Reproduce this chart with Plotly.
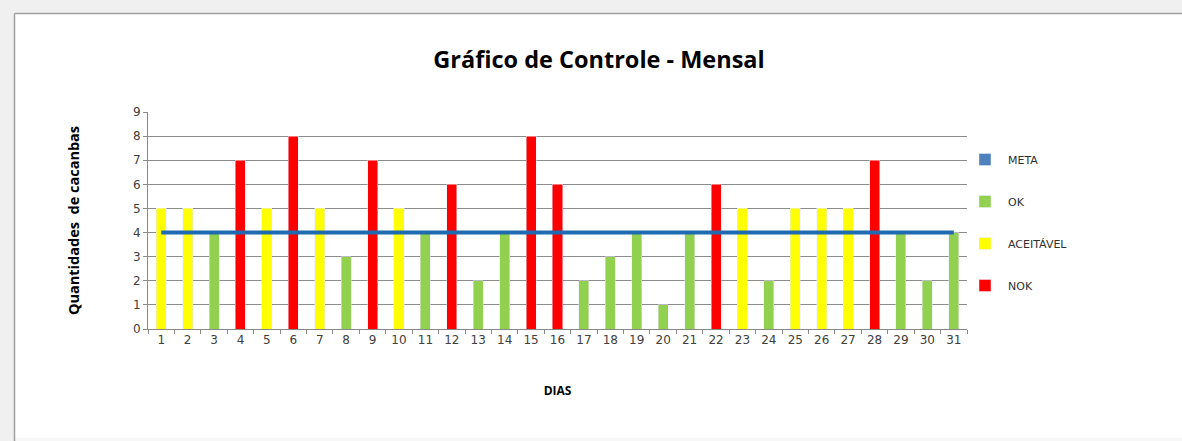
import plotly.graph_objects as go

# ---- data ----
days = [str(d) for d in range(1, 32)]
values = [5, 5, 4, 7, 5, 8, 5, 3, 7, 5, 4, 6, 2, 4, 8, 6, 2, 3, 4, 1, 4, 6, 5, 2, 5, 5, 5, 7, 4, 2, 4]
status = ["A", "A", "OK", "N", "A", "N", "A", "OK", "N", "A", "OK", "N", "OK", "OK", "N", "N",
          "OK", "OK", "OK", "OK", "OK", "N", "A", "OK", "A", "A", "A", "N", "OK", "OK", "OK"]
meta = [4] * 31

ok_vals = [v if s == "OK" else None for v, s in zip(values, status)]
ac_vals = [v if s == "A" else None for v, s in zip(values, status)]
nok_vals = [v if s == "N" else None for v, s in zip(values, status)]

# ---- layout geometry ----
W, H = 1182, 441
L, R, T, B = 148, 215, 112, 112
PW, PH = W - L - R, H - T - B


def px(x):
    return (x - L) / PW


def py(y):
    return (H - B - y) / PH


fig = go.Figure()
fig.add_trace(go.Bar(x=days, y=[None] * 31, name="META", marker_color="#4F81BD",
                     legendrank=1, legendgroup="g1"))
fig.add_trace(go.Bar(x=days, y=ok_vals, name="OK", marker_color="#92D050",
                     legendrank=2, legendgroup="g2"))
fig.add_trace(go.Bar(x=days, y=ac_vals, name="ACEITÁVEL", marker_color="#FFFF00",
                     legendrank=3, legendgroup="g3"))
fig.add_trace(go.Bar(x=days, y=nok_vals, name="NOK", marker_color="#FF0000",
                     legendrank=4, legendgroup="g4"))
fig.add_trace(go.Scatter(x=days, y=meta, mode="lines", name="META",
                         line=dict(color="#1F6AB0", width=4), showlegend=False))

grey = "#F0F0F0"
shapes = [
    dict(type="rect", xref="paper", yref="paper", x0=px(0), x1=px(14), y0=py(H), y1=py(0),
         fillcolor=grey, line_width=0, layer="below"),
    dict(type="rect", xref="paper", yref="paper", x0=px(0), x1=px(W), y0=py(13), y1=py(0),
         fillcolor=grey, line_width=0, layer="below"),
    dict(type="rect", xref="paper", yref="paper", x0=px(14), x1=px(W), y0=py(H), y1=py(438),
         fillcolor="#F7F7F7", line_width=0, layer="below"),
    dict(type="line", xref="paper", yref="paper", x0=px(14.5), x1=px(14.5), y0=py(H), y1=py(13.5),
         line=dict(color="#A0A0A0", width=1.5), layer="below"),
    dict(type="line", xref="paper", yref="paper", x0=px(14.5), x1=px(W), y0=py(13.5), y1=py(13.5),
         line=dict(color="#A0A0A0", width=1.5), layer="below"),
]

fig.update_layout(
    width=W, height=H,
    margin=dict(l=L, r=R, t=T, b=B),
    paper_bgcolor="white", plot_bgcolor="white",
    barmode="stack", bargap=0.62,
    shapes=shapes,
    title=dict(text="<b>Gráfico de Controle - Mensal</b>", x=599 / W, xanchor="center",
               y=1 - 60 / H, yanchor="middle", xref="container", yref="container",
               font=dict(family="Open Sans", size=23.5, color="#000000")),
    font=dict(family="DejaVu Sans", size=12, color="#404040"),
    legend=dict(x=px(962), y=py(145), xanchor="left", yanchor="top",
                font=dict(family="DejaVu Sans", size=11, color="#303030"),
                tracegroupgap=23, itemwidth=36, bgcolor="rgba(0,0,0,0)"),
    showlegend=True,
)

fig.update_xaxes(
    type="category", tickson="boundaries", ticks="outside", ticklen=4, tickcolor="#888888",
    showline=True, linecolor="#888888", linewidth=1, showgrid=False,
    tickfont=dict(family="DejaVu Sans", size=12, color="#404040"),
    title=dict(text="<b>DIAS</b>", standoff=40,
               font=dict(family="Open Sans", size=12, color="#000000")),
)
fig.update_yaxes(
    range=[0, 9], dtick=1, ticks="outside", ticklen=4, tickcolor="#888888",
    showline=True, linecolor="#888888", linewidth=1,
    showgrid=True, gridcolor="#8C8C8C", gridwidth=1, zeroline=False,
    tickfont=dict(family="DejaVu Sans", size=12, color="#404040"),
    title=dict(text="<b>Quantidades  de cacanbas</b>", standoff=49,
               font=dict(family="Open Sans", size=14.5, color="#000000")),
)

fig.write_html(
    "out.html",
    config={"displayModeBar": False},
    post_script="document.body.style.margin='0';document.body.style.overflow='hidden';",
)
